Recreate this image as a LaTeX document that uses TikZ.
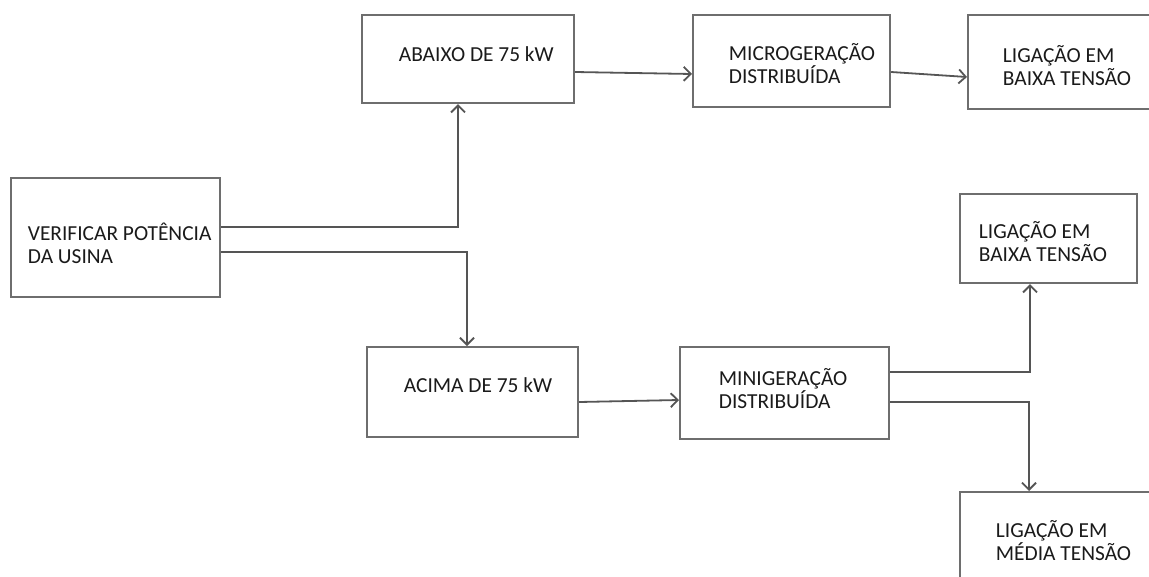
\documentclass[tikz,border=0pt]{standalone}
\usepackage{fontspec}
\setmainfont{Carlito}
\usetikzlibrary{arrows.meta}
\definecolor{framegray}{HTML}{6E6E6E}
\definecolor{linegray}{HTML}{555555}
\definecolor{textdark}{HTML}{1A1A1A}
\tikzset{
  stepbox/.style={draw=framegray, line width=2.2pt, anchor=north west, inner sep=0pt},
  steptext/.style={anchor=base west, align=left, inner sep=0pt, text=textdark,
    font=\fontsize{21.4}{23}\selectfont},
}
\begin{document}
\begin{tikzpicture}[x=1pt, y=-1pt, >={Straight Barb[length=7pt, width=14pt]}, line width=1.8pt]
    \useasboundingbox (0,0) rectangle (1149,576);
    \clip (0,0) rectangle (1149,576);

    % Draw the boxes
    \node[stepbox, minimum width=209, minimum height=119] (verif) at (10,177) {};
    \node[stepbox, minimum width=212, minimum height=88] (abaixo) at (361,14) {};
    \node[stepbox, minimum width=197, minimum height=92] (micro) at (692,14) {};
    \node[stepbox, minimum width=200, minimum height=94] (ligbt) at (967,14) {};
    \node[stepbox, minimum width=211, minimum height=90] (acima) at (366,346) {};
    \node[stepbox, minimum width=209, minimum height=92] (mini) at (679,346) {};
    \node[stepbox, minimum width=177, minimum height=89] (ligbtb) at (959,193) {};
    \node[stepbox, minimum width=200, minimum height=100] (ligmt) at (959,491) {};

    % Texts inside the boxes (base = last line)
    \node[steptext] (verift) at (27,263) {VERIFICAR POTÊNCIA\\DA USINA};
    \node[steptext] (abaixot) at (398,61) {ABAIXO DE 75 kW};
    \node[steptext] (microt) at (728,83) {MICROGERAÇÃO\\DISTRIBUÍDA};
    \node[steptext] (ligbtt) at (1002,85) {LIGAÇÃO EM\\BAIXA TENSÃO};
    \node[steptext] (acimat) at (403,392) {ACIMA DE 75 kW};
    \node[steptext] (minit) at (718,408) {MINIGERAÇÃO\\DISTRIBUÍDA};
    \node[steptext] (ligbtbt) at (978,261) {LIGAÇÃO EM\\BAIXA TENSÃO};
    \node[steptext] (ligmtt) at (995,560) {LIGAÇÃO EM\\MÉDIA TENSÃO};

    % Connectors
    \draw[->, linegray] ([yshift=-50pt]verif.north east) -| ([xshift=97pt]abaixo.south west);
    \draw[->, linegray] ([yshift=-75pt]verif.north east) -| ([xshift=101pt]acima.north west);
    \draw[->, linegray] ([yshift=-58pt]abaixo.north east) -- ([yshift=-60pt]micro.north west);
    \draw[->, linegray] ([yshift=-58pt]micro.north east) -- ([yshift=-63pt]ligbt.north west);
    \draw[->, linegray] ([yshift=-56pt]acima.north east) -- ([yshift=-54pt]mini.north west);
    \draw[->, linegray] ([yshift=-26pt]mini.north east) -| ([xshift=71pt]ligbtb.south west);
    \draw[->, linegray] ([yshift=-56pt]mini.north east) -| ([xshift=70pt]ligmt.north west);
\end{tikzpicture}
\end{document}
